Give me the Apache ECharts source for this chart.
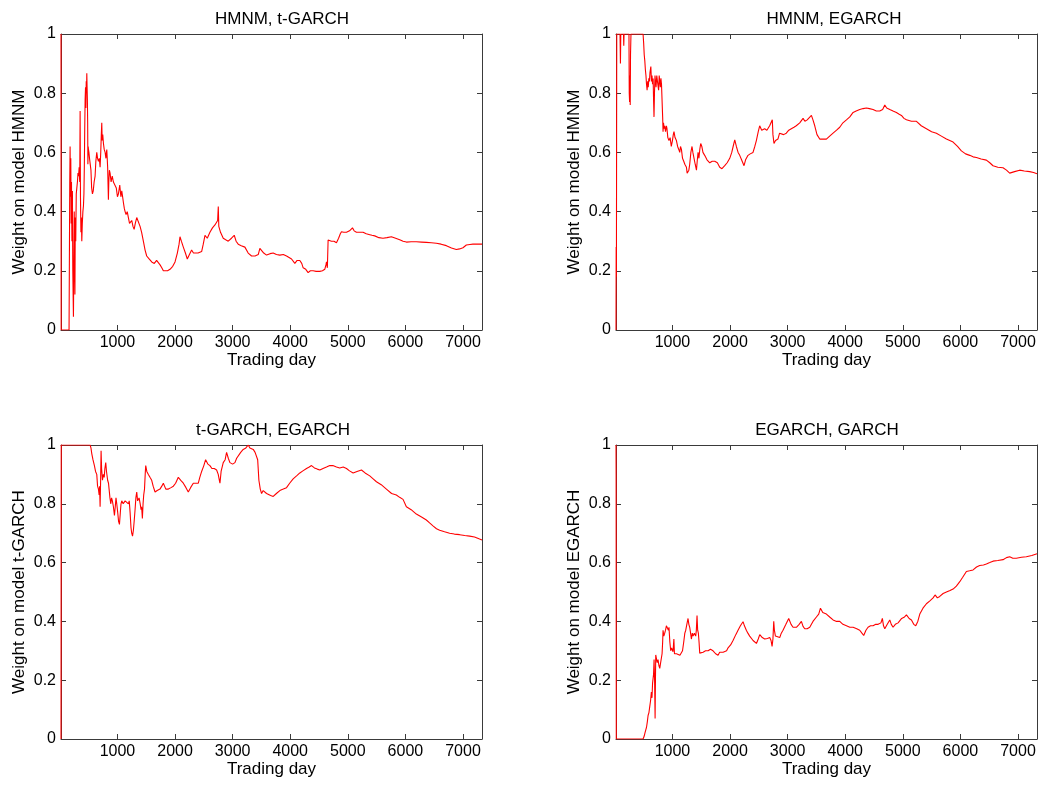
<!DOCTYPE html>
<html><head><meta charset="utf-8">
<script src="https://cdn.jsdelivr.net/npm/echarts@6/dist/echarts.min.js"></script>
<style>html,body{margin:0;padding:0;background:#fff}#c{width:1042px;height:786px}</style>
</head><body><div id="c"></div>
<script>
// ---- labels ----
const panelTitles = ['HMNM, t-GARCH', 'HMNM, EGARCH', 't-GARCH, EGARCH', 'EGARCH, GARCH'];
const yNames = ['Weight on model HMNM', 'Weight on model HMNM', 'Weight on model t-GARCH', 'Weight on model EGARCH'];
const xName = 'Trading day';
const xTickValues = [1000, 2000, 3000, 4000, 5000, 6000, 7000];
const xMin = 20, xMax = 7330;
const yMin = 0, yMax = 1, yStep = 0.2;

// ---- series values: [trading day, weight] ----
const hmnmTgarch = [[20,1],[23,0],[160,0],[172,0.50],[178,0.62],[184,0.45],[190,0.58],[196,0.36],[202,0.50],[210,0.30],[218,0.47],[225,0.20],[232,0.10],[236,0.045],[242,0.20],[250,0.40],[256,0.25],[262,0.12],[268,0.38],[276,0.30],[285,0.46],[295,0.48],[305,0.50],[315,0.53],[325,0.52],[335,0.55],[345,0.50],[352,0.74],[358,0.45],[366,0.33],[374,0.38],[381,0.30],[390,0.36],[400,0.40],[410,0.42],[418,0.46],[425,0.55],[432,0.68],[439,0.78],[446,0.82],[452,0.75],[458,0.84],[463,0.80],[468,0.867],[473,0.82],[478,0.78],[483,0.70],[487,0.56],[492,0.62],[497,0.61],[505,0.60],[515,0.58],[526,0.58],[540,0.54],[552,0.48],[566,0.46],[580,0.47],[595,0.50],[612,0.52],[625,0.57],[641,0.60],[655,0.58],[670,0.57],[685,0.58],[699,0.55],[710,0.60],[720,0.66],[728,0.70],[735,0.64],[745,0.66],[757,0.63],[770,0.61],[786,0.60],[800,0.58],[815,0.61],[830,0.55],[843,0.44],[850,0.50],[860,0.54],[872,0.53],[890,0.50],[910,0.52],[930,0.50],[959,0.50],[980,0.48],[1000,0.45],[1017,0.46],[1040,0.49],[1060,0.45],[1075,0.47],[1090,0.45],[1104,0.43],[1120,0.41],[1133,0.40],[1150,0.39],[1170,0.40],[1190,0.38],[1210,0.36],[1230,0.36],[1248,0.37],[1270,0.35],[1290,0.34],[1310,0.36],[1335,0.38],[1360,0.375],[1393,0.35],[1420,0.33],[1450,0.30],[1480,0.27],[1508,0.25],[1550,0.24],[1595,0.23],[1640,0.225],[1680,0.235],[1710,0.235],[1740,0.22],[1770,0.21],[1797,0.20],[1830,0.195],[1870,0.20],[1913,0.205],[1960,0.215],[2000,0.23],[2040,0.26],[2070,0.29],[2086,0.315],[2110,0.30],[2144,0.28],[2180,0.26],[2213,0.24],[2250,0.255],[2288,0.27],[2320,0.26],[2346,0.255],[2400,0.26],[2462,0.265],[2490,0.29],[2520,0.32],[2560,0.31],[2606,0.33],[2650,0.345],[2693,0.355],[2720,0.35],[2740,0.37],[2751,0.417],[2760,0.35],[2790,0.33],[2837,0.31],[2880,0.305],[2924,0.30],[2980,0.31],[3028,0.32],[3060,0.30],[3097,0.29],[3150,0.285],[3213,0.28],[3270,0.26],[3329,0.25],[3390,0.25],[3445,0.255],[3473,0.276],[3503,0.27],[3540,0.26],[3589,0.253],[3650,0.258],[3704,0.26],[3760,0.255],[3820,0.253],[3880,0.255],[3936,0.25],[3980,0.245],[4023,0.24],[4080,0.225],[4120,0.235],[4167,0.235],[4200,0.225],[4225,0.21],[4270,0.205],[4311,0.194],[4350,0.20],[4398,0.20],[4450,0.198],[4514,0.198],[4560,0.20],[4600,0.205],[4620,0.22],[4630,0.23],[4645,0.21],[4658,0.304],[4690,0.31],[4716,0.30],[4760,0.30],[4803,0.295],[4840,0.31],[4870,0.325],[4890,0.332],[4930,0.33],[4977,0.33],[5030,0.335],[5081,0.345],[5110,0.335],[5150,0.33],[5200,0.33],[5265,0.33],[5320,0.325],[5381,0.322],[5420,0.32],[5468,0.318],[5540,0.312],[5611,0.31],[5680,0.312],[5757,0.315],[5830,0.31],[5901,0.305],[5960,0.30],[6017,0.297],[6100,0.298],[6190,0.298],[6280,0.297],[6364,0.296],[6450,0.295],[6537,0.293],[6620,0.29],[6711,0.285],[6800,0.277],[6884,0.272],[6940,0.274],[7000,0.278],[7058,0.287],[7120,0.289],[7172,0.29],[7250,0.29],[7330,0.29]];

const hmnmEgarch = [[20,0],[23,0.28],[27,0.18],[33,1],[90,1],[97,0.90],[103,1],[150,1],[155,0.96],[160,1],[245,1],[250,0.80],[256,0.77],[262,0.86],[267,0.76],[272,0.93],[280,1],[490,1],[500,0.97],[510,0.93],[520,0.91],[530,0.88],[540,0.86],[550,0.83],[560,0.81],[570,0.84],[580,0.82],[590,0.85],[600,0.84],[610,0.87],[625,0.89],[635,0.84],[645,0.86],[655,0.83],[665,0.85],[672,0.78],[680,0.72],[688,0.80],[697,0.86],[705,0.86],[715,0.82],[728,0.86],[740,0.84],[750,0.84],[760,0.81],[770,0.86],[780,0.86],[790,0.82],[800,0.85],[810,0.83],[820,0.83],[830,0.72],[837,0.67],[845,0.70],[855,0.68],[866,0.69],[880,0.67],[895,0.69],[905,0.68],[920,0.65],[940,0.64],[960,0.65],[980,0.62],[1000,0.64],[1015,0.66],[1027,0.67],[1045,0.65],[1069,0.64],[1090,0.62],[1110,0.61],[1127,0.60],[1140,0.62],[1156,0.61],[1175,0.58],[1196,0.57],[1215,0.56],[1243,0.55],[1255,0.53],[1271,0.524],[1285,0.54],[1300,0.56],[1320,0.60],[1340,0.62],[1355,0.60],[1375,0.58],[1395,0.56],[1417,0.54],[1430,0.57],[1445,0.60],[1460,0.58],[1475,0.61],[1491,0.63],[1510,0.62],[1530,0.60],[1560,0.59],[1600,0.575],[1648,0.565],[1690,0.57],[1735,0.57],[1780,0.565],[1821,0.55],[1860,0.545],[1908,0.555],[1950,0.565],[1995,0.58],[2030,0.60],[2060,0.625],[2082,0.642],[2110,0.62],[2140,0.60],[2168,0.59],[2200,0.575],[2243,0.555],[2270,0.575],[2312,0.59],[2350,0.595],[2399,0.60],[2430,0.62],[2457,0.64],[2490,0.67],[2515,0.69],[2550,0.675],[2601,0.68],[2640,0.675],[2688,0.69],[2720,0.685],[2734,0.71],[2745,0.66],[2763,0.63],[2790,0.64],[2832,0.645],[2860,0.665],[2890,0.67],[2930,0.66],[2977,0.665],[3020,0.675],[3064,0.68],[3110,0.685],[3150,0.69],[3210,0.70],[3268,0.715],[3300,0.705],[3340,0.71],[3370,0.71],[3413,0.725],[3440,0.71],[3471,0.69],[3510,0.66],[3557,0.645],[3620,0.645],[3673,0.645],[3730,0.655],[3789,0.665],[3850,0.675],[3905,0.685],[3960,0.70],[4021,0.71],[4080,0.72],[4137,0.735],[4190,0.74],[4252,0.745],[4310,0.748],[4368,0.75],[4420,0.748],[4484,0.745],[4540,0.74],[4600,0.74],[4650,0.745],[4687,0.76],[4720,0.75],[4774,0.745],[4830,0.74],[4889,0.735],[4930,0.73],[4976,0.725],[5020,0.715],[5063,0.71],[5150,0.705],[5237,0.705],[5320,0.69],[5410,0.68],[5500,0.67],[5583,0.665],[5670,0.655],[5757,0.645],[5873,0.635],[5950,0.62],[6017,0.605],[6090,0.595],[6162,0.59],[6220,0.585],[6278,0.583],[6360,0.578],[6451,0.574],[6510,0.565],[6566,0.555],[6650,0.55],[6740,0.548],[6800,0.54],[6856,0.53],[6940,0.535],[7029,0.54],[7110,0.537],[7203,0.535],[7270,0.532],[7330,0.528]];

const tgarchEgarch = [[20,0],[24,1],[525,1],[540,0.99],[555,0.97],[575,0.95],[600,0.93],[620,0.91],[641,0.90],[655,0.86],[670,0.85],[682,0.83],[690,0.86],[699,0.79],[708,0.88],[716,0.98],[725,0.92],[740,0.88],[755,0.90],[770,0.89],[782,0.92],[797,0.94],[810,0.91],[830,0.88],[845,0.87],[855,0.85],[870,0.82],[885,0.80],[898,0.82],[912,0.81],[930,0.79],[948,0.76],[962,0.79],[975,0.82],[988,0.80],[1005,0.77],[1020,0.74],[1035,0.73],[1050,0.77],[1062,0.80],[1075,0.81],[1100,0.80],[1133,0.81],[1160,0.805],[1190,0.80],[1205,0.81],[1220,0.77],[1235,0.72],[1248,0.70],[1262,0.69],[1277,0.71],[1290,0.74],[1306,0.78],[1320,0.82],[1335,0.84],[1350,0.81],[1376,0.82],[1395,0.80],[1410,0.78],[1420,0.79],[1433,0.75],[1445,0.80],[1456,0.83],[1470,0.85],[1482,0.90],[1491,0.93],[1510,0.91],[1537,0.90],[1565,0.89],[1595,0.88],[1620,0.86],[1653,0.84],[1690,0.845],[1739,0.85],[1770,0.86],[1797,0.87],[1840,0.85],[1884,0.85],[1930,0.855],[1971,0.86],[2010,0.87],[2057,0.89],[2100,0.88],[2144,0.87],[2190,0.855],[2230,0.84],[2270,0.855],[2317,0.87],[2360,0.87],[2404,0.87],[2430,0.89],[2462,0.91],[2500,0.93],[2531,0.95],[2570,0.935],[2606,0.93],[2640,0.92],[2681,0.92],[2722,0.915],[2750,0.90],[2770,0.88],[2780,0.87],[2800,0.91],[2837,0.94],[2870,0.95],[2895,0.975],[2925,0.955],[2953,0.94],[3000,0.935],[3040,0.94],[3070,0.955],[3097,0.96],[3140,0.975],[3184,0.985],[3230,0.99],[3271,1.0],[3300,0.99],[3330,0.985],[3358,0.985],[3390,0.975],[3416,0.98],[3435,0.95],[3456,0.88],[3480,0.85],[3503,0.835],[3531,0.845],[3560,0.84],[3589,0.835],[3618,0.83],[3660,0.828],[3705,0.825],[3760,0.835],[3820,0.845],[3880,0.85],[3936,0.855],[3990,0.87],[4051,0.885],[4110,0.895],[4167,0.905],[4220,0.912],[4283,0.92],[4330,0.925],[4370,0.93],[4420,0.922],[4470,0.918],[4514,0.915],[4570,0.92],[4630,0.925],[4687,0.93],[4740,0.93],[4803,0.925],[4860,0.922],[4920,0.925],[4977,0.92],[5030,0.912],[5092,0.905],[5160,0.91],[5237,0.915],[5300,0.905],[5381,0.895],[5440,0.885],[5497,0.875],[5580,0.865],[5670,0.85],[5760,0.835],[5843,0.83],[5900,0.822],[5959,0.815],[5990,0.81],[6017,0.79],[6100,0.78],[6190,0.765],[6280,0.755],[6364,0.745],[6420,0.735],[6479,0.725],[6540,0.715],[6595,0.71],[6680,0.705],[6768,0.70],[6850,0.697],[6942,0.695],[7030,0.692],[7115,0.69],[7200,0.687],[7288,0.68],[7330,0.677]];

const egarchGarch = [[20,1],[22,0.9],[25,0],[490,0],[500,0.005],[510,0.01],[522,0.02],[536,0.03],[550,0.04],[565,0.06],[577,0.08],[592,0.09],[606,0.11],[620,0.13],[634,0.16],[645,0.14],[655,0.19],[664,0.19],[672,0.22],[681,0.27],[690,0.20],[699,0.07],[705,0.20],[710,0.286],[720,0.28],[735,0.26],[750,0.27],[765,0.25],[780,0.24],[795,0.26],[808,0.26],[820,0.29],[830,0.33],[837,0.37],[850,0.35],[866,0.36],[880,0.37],[895,0.385],[906,0.39],[920,0.38],[930,0.37],[940,0.38],[955,0.33],[970,0.30],[985,0.31],[1010,0.297],[1025,0.34],[1035,0.29],[1040,0.285],[1070,0.29],[1098,0.29],[1130,0.285],[1156,0.28],[1175,0.30],[1196,0.33],[1215,0.36],[1231,0.37],[1250,0.39],[1271,0.41],[1285,0.39],[1300,0.38],[1315,0.36],[1329,0.34],[1345,0.36],[1358,0.35],[1380,0.36],[1404,0.35],[1415,0.37],[1427,0.42],[1438,0.37],[1450,0.36],[1462,0.33],[1474,0.292],[1500,0.298],[1532,0.295],[1575,0.30],[1619,0.30],[1660,0.305],[1705,0.30],[1750,0.29],[1792,0.285],[1820,0.295],[1850,0.30],[1880,0.295],[1908,0.29],[1940,0.30],[1966,0.31],[2010,0.32],[2052,0.335],[2100,0.355],[2139,0.37],[2180,0.385],[2226,0.399],[2250,0.385],[2283,0.37],[2310,0.36],[2341,0.35],[2400,0.335],[2458,0.325],[2490,0.34],[2516,0.355],[2560,0.345],[2602,0.34],[2650,0.342],[2689,0.345],[2712,0.335],[2730,0.315],[2745,0.34],[2759,0.40],[2770,0.37],[2788,0.35],[2820,0.35],[2863,0.345],[2890,0.36],[2920,0.37],[2970,0.39],[3019,0.41],[3060,0.39],[3094,0.38],[3152,0.38],[3200,0.39],[3239,0.40],[3268,0.383],[3297,0.375],[3340,0.375],[3384,0.38],[3440,0.40],[3500,0.415],[3540,0.425],[3570,0.445],[3610,0.43],[3673,0.425],[3730,0.415],[3789,0.405],[3850,0.40],[3905,0.40],[3960,0.39],[4021,0.385],[4080,0.38],[4137,0.38],[4200,0.375],[4252,0.37],[4290,0.36],[4321,0.352],[4360,0.37],[4396,0.38],[4440,0.385],[4484,0.385],[4530,0.39],[4571,0.39],[4620,0.395],[4645,0.41],[4665,0.385],[4687,0.375],[4730,0.39],[4774,0.405],[4800,0.39],[4831,0.38],[4870,0.39],[4918,0.395],[4980,0.41],[5030,0.415],[5063,0.422],[5110,0.41],[5150,0.405],[5190,0.39],[5225,0.385],[5260,0.40],[5295,0.425],[5350,0.445],[5410,0.46],[5470,0.47],[5526,0.48],[5560,0.49],[5600,0.48],[5641,0.485],[5700,0.495],[5757,0.50],[5820,0.505],[5873,0.51],[5930,0.52],[5989,0.535],[6040,0.55],[6104,0.57],[6160,0.572],[6220,0.575],[6280,0.585],[6335,0.59],[6400,0.592],[6451,0.595],[6510,0.60],[6566,0.605],[6650,0.607],[6740,0.61],[6800,0.617],[6856,0.62],[6910,0.615],[6971,0.615],[7060,0.618],[7145,0.62],[7240,0.624],[7330,0.63]];

const panelSeries = [hmnmTgarch, hmnmEgarch, tgarchEgarch, egarchGarch];

// ---- layout ----
const grids = [
  {left: 61, top: 34, width: 421, height: 296},
  {left: 616, top: 34, width: 421, height: 296},
  {left: 61, top: 445, width: 421, height: 294},
  {left: 616, top: 445, width: 421, height: 294}
];
const titlePos = [[277, 6], [829, 6], [268, 417], [822, 417]];
const FONT = '"Liberation Sans", Arial, sans-serif';
const axisColor = '#3a3a3a';
const lineRed = '#ff0000';

const option = {
  animation: false,
  backgroundColor: '#ffffff',
  title: [], grid: [], xAxis: [], yAxis: [], series: []
};

grids.forEach((g, i) => {
  option.grid.push(Object.assign({containLabel: false}, g));
  option.title.push({
    text: panelTitles[i], left: titlePos[i][0], top: titlePos[i][1], textAlign: 'center',
    textStyle: {fontFamily: FONT, fontSize: 17, fontWeight: 'normal', color: '#000'}
  });
  const tickStyle = {color: axisColor, width: 1};
  const xCommon = {
    type: 'value', gridIndex: i, min: xMin, max: xMax,
    axisLine: {show: true, onZero: false, lineStyle: tickStyle},
    axisTick: {show: true, inside: true, length: 5, customValues: xTickValues, lineStyle: tickStyle},
    splitLine: {show: false}
  };
  option.xAxis.push(Object.assign({}, xCommon, {
    position: 'bottom',
    axisLabel: {show: true, customValues: xTickValues, formatter: v => String(v), margin: 5, fontSize: 16, fontFamily: FONT, color: '#000'},
    name: xName, nameLocation: 'middle', nameGap: 22,
    nameTextStyle: {fontFamily: FONT, fontSize: 17, color: '#000'}
  }));
  option.xAxis.push(Object.assign({}, xCommon, {
    position: 'top', axisLabel: {show: false}
  }));
  const yCommon = {
    type: 'value', gridIndex: i, min: yMin, max: yMax, interval: yStep,
    axisLine: {show: true, onZero: false, lineStyle: tickStyle},
    axisTick: {show: true, inside: true, length: 5, lineStyle: tickStyle},
    splitLine: {show: false}
  };
  option.yAxis.push(Object.assign({}, yCommon, {
    position: 'left',
    axisLabel: {show: true, margin: 5, fontSize: 16, fontFamily: FONT, color: '#000'},
    name: yNames[i], nameLocation: 'middle', nameGap: 33, nameRotate: 90,
    nameTextStyle: {fontFamily: FONT, fontSize: 17, color: '#000'}
  }));
  option.yAxis.push(Object.assign({}, yCommon, {
    position: 'right', axisLabel: {show: false}
  }));
  option.series.push({
    type: 'line', xAxisIndex: 2 * i, yAxisIndex: 2 * i,
    data: panelSeries[i], showSymbol: false, symbol: 'none', clip: true, silent: true,
    lineStyle: {color: lineRed, width: 1.1}, itemStyle: {color: lineRed}, z: 5
  });
});

const chart = echarts.init(document.getElementById('c'), null, {renderer: 'canvas'});
chart.setOption(option);
</script>
</body></html>
